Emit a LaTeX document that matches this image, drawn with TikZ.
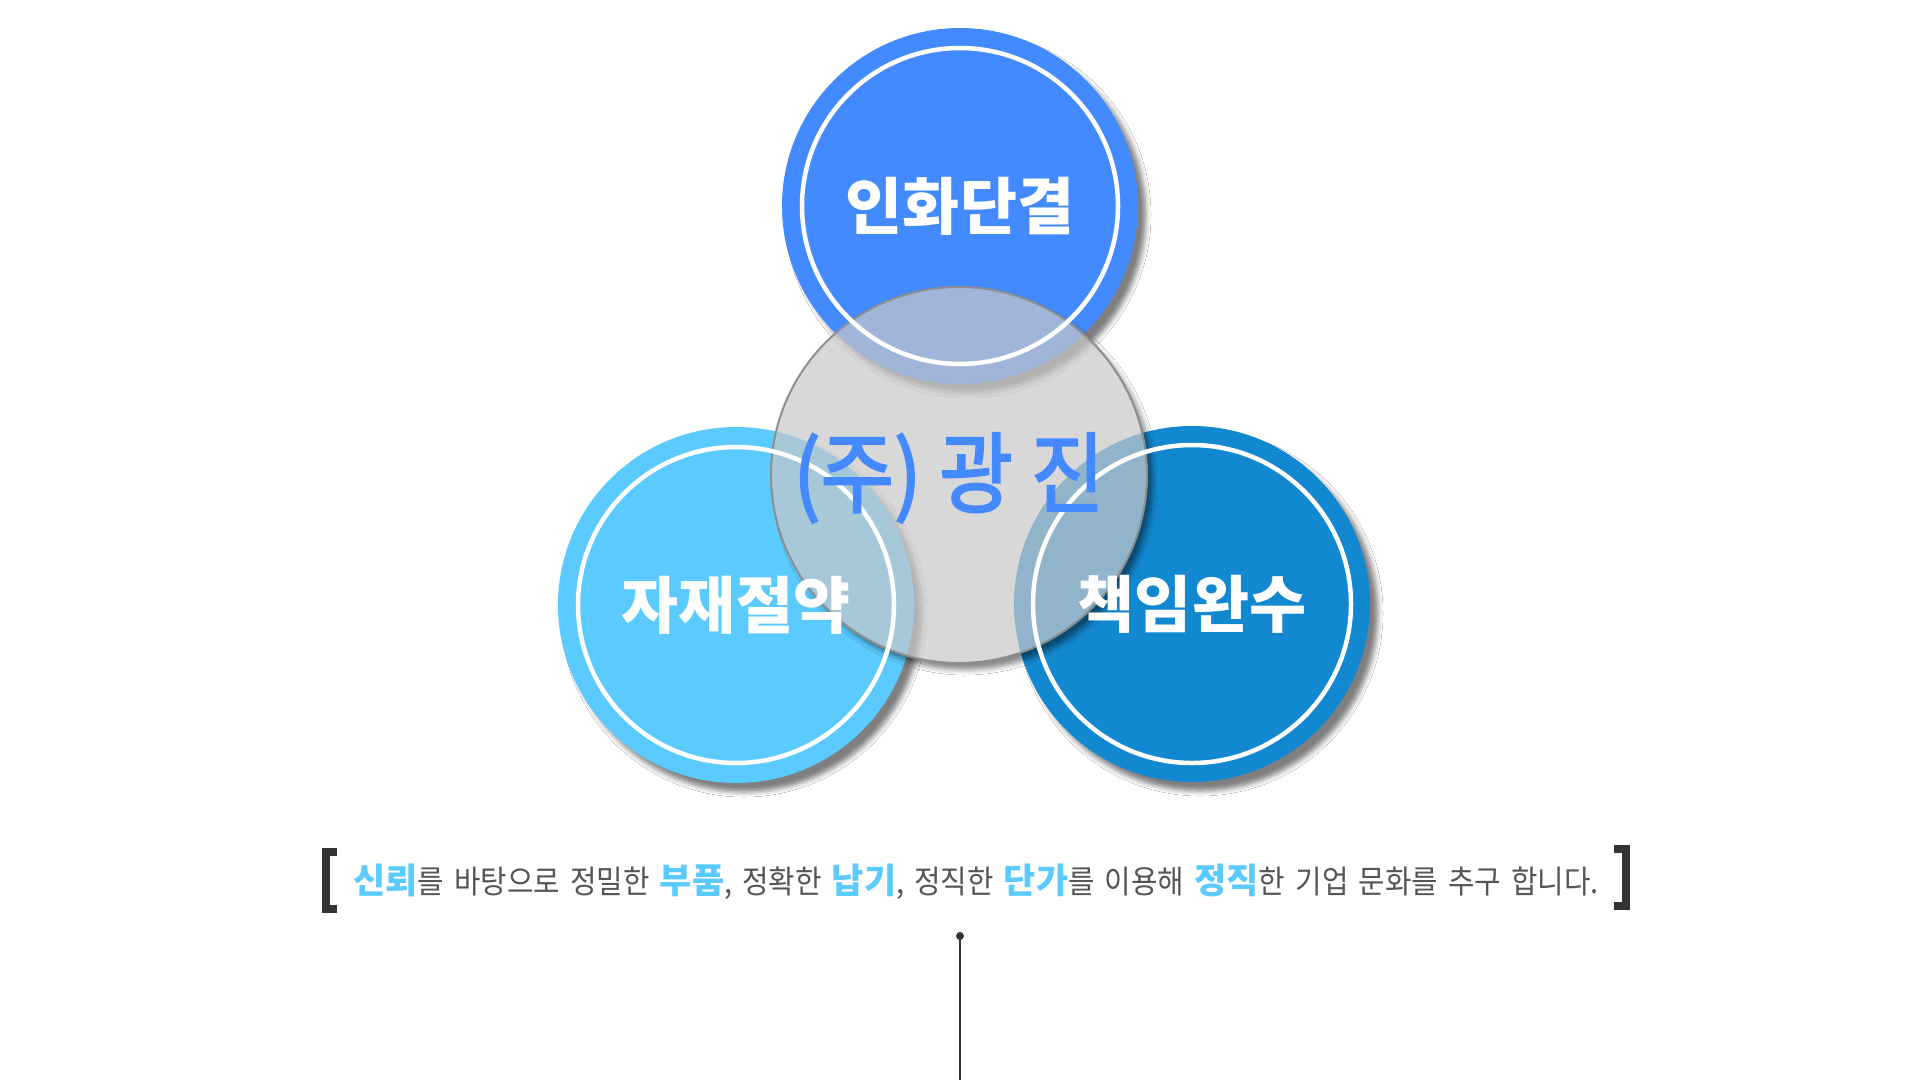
\documentclass[tikz,border=0pt]{standalone}
\usepackage{fontspec}
\usepackage{graphicx}
\setmainfont{Noto Sans CJK KR}
\newfontfamily\brandfont{Noto Sans CJK KR}[FakeBold=2.5]
\usetikzlibrary{positioning,shadows.blur}
\definecolor{harmonyblue}{HTML}{448AFF}
\definecolor{thriftblue}{HTML}{5BCBFF}
\definecolor{dutyblue}{HTML}{1288D0}
\definecolor{coregray}{HTML}{C8C8C8}
\definecolor{coreedge}{HTML}{8E8E8E}
\definecolor{brandblue}{HTML}{4589FF}
\definecolor{inkgray}{HTML}{555555}
\definecolor{darkink}{HTML}{333333}
\newcommand\mottokey[1]{{\color{thriftblue}\fontsize{35pt}{40pt}\selectfont\bfseries #1}}
\newcommand\mottotext[1]{{\color{inkgray}\fontsize{32pt}{36pt}\selectfont\spaceskip=0.35em\scalebox{0.9}[1]{#1}}}
\tikzset{
    disc/.style = {circle, minimum size = 356pt, inner sep = 0pt,
        blur shadow = {shadow xshift = 8pt, shadow yshift = -9pt, shadow blur radius = 5pt, shadow opacity = 50}},
    ring/.style = {draw = white, line width = 4.5pt},
    virtue/.style = {text = white, font = \fontsize{62pt}{70pt}\selectfont\bfseries},
    core/.style = {circle, minimum size = 376pt, inner sep = 0pt, fill = coregray, fill opacity = 0.7,
        draw = coreedge, line width = 2pt},
    brand/.style = {text = brandblue, font = \fontsize{88pt}{98pt}\brandfont},
    slogan/.style = {inner sep = 0pt},
    bracket/.style = {draw = darkink, line width = 8pt, line join = miter}
}
\begin{document}
\begin{tikzpicture}[x = 1pt, y = -1pt]
    \useasboundingbox [fill = white] (0,0) rectangle (1920,1080);
    % three virtues
    \node [disc, fill = harmonyblue] (harmony) at (960,206) {};
    \node [disc, fill = thriftblue] (thrift) at (736,605) {};
    \node [disc, fill = dutyblue] (duty) at (1192,604) {};
    % soft shadow of the middle circle, outside it only
    \coordinate (mid) at (959,475);
    \begin{scope}[even odd rule]
        \clip (0,0) rectangle (1920,1080) (mid) circle (188pt);
        \path [blur shadow = {shadow xshift = 6pt, shadow yshift = -7pt, shadow blur radius = 5pt, shadow opacity = 45}] (mid) circle (188pt);
    \end{scope}
    \node [core] (company) at (mid) {};
    \draw [ring] (harmony.center) circle (158pt);
    \draw [ring] (thrift.center) circle (158pt);
    \draw [ring] (duty.center) circle (159pt);
    \node [virtue] (t1) at (harmony) {인화단결};
    \node [virtue] (t2) at (thrift) {자재절약};
    \node [virtue] (t3) at (duty) {책임완수};
    \node [brand] (name) at (949,478) {\scalebox{0.91}[1]{(주) 광 진}};
    % motto line
    \node [slogan] (motto) at (976,882) {\mottokey{신뢰}\mottotext{를 바탕으로 정밀한 }\mottokey{부품}\mottotext{, 정확한 }\mottokey{납기}\mottotext{, 정직한 }\mottokey{단가}\mottotext{를 이용해 }\mottokey{정직}\mottotext{한 기업 문화를 추구 합니다.}};
    \draw [bracket] (337,852) -- (326,852) -- (326,909) -- (337,909);
    \draw [bracket] (1614,849) -- (1626,849) -- (1626,906) -- (1614,906);
    \coordinate (stem) at (960,936);
    \coordinate (stemend) at (960,1080);
    \fill [darkink] (stem) circle (4pt);
    \draw [darkink, line width = 2.5pt] (stem) -- (stemend);
\end{tikzpicture}
\end{document}
